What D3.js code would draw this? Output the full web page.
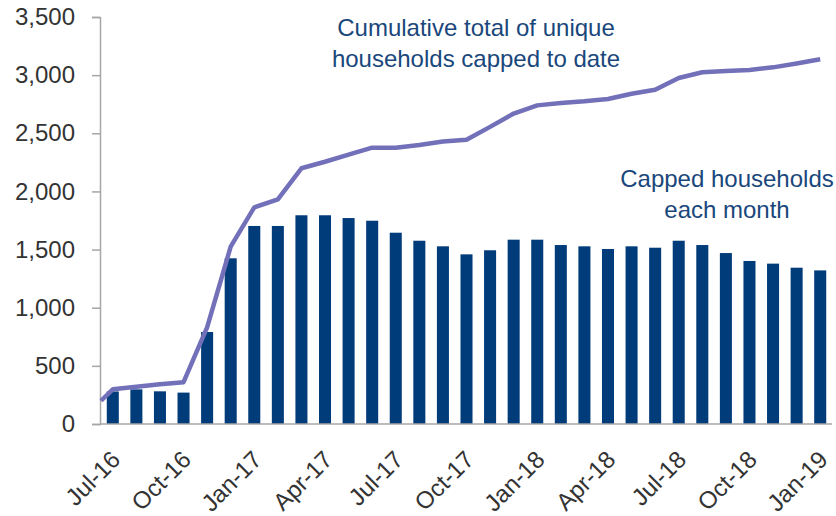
<!DOCTYPE html>
<html>
<head>
<meta charset="utf-8">
<script src="https://cdn.jsdelivr.net/npm/d3@7"></script>
<style>
  body { margin: 0; background: #fff; }
  svg text { font-family: "Liberation Sans", Arial, sans-serif; }
</style>
</head>
<body>
<svg id="chart" width="836" height="516"></svg>
<script>
// months Jul-16 .. Jan-19
var months = ["Jul-16","Aug-16","Sep-16","Oct-16","Nov-16","Dec-16",
  "Jan-17","Feb-17","Mar-17","Apr-17","May-17","Jun-17","Jul-17","Aug-17","Sep-17","Oct-17","Nov-17","Dec-17",
  "Jan-18","Feb-18","Mar-18","Apr-18","May-18","Jun-18","Jul-18","Aug-18","Sep-18","Oct-18","Nov-18","Dec-18",
  "Jan-19"];

// capped households each month (bars)
var capped = [280, 298, 281, 270, 791, 1425,
  1703, 1703, 1795, 1795, 1771, 1748, 1645, 1576, 1528, 1459, 1494, 1585,
  1585, 1539, 1528, 1505, 1528, 1516, 1576, 1539, 1470, 1402, 1379, 1344,
  1321];

// cumulative unique households capped (line)
var cumulative = [298, 320, 342, 360, 830, 1525,
  1863, 1932, 2199, 2255, 2316, 2376, 2375, 2400, 2430, 2445, 2555, 2670,
  2740, 2760, 2775, 2795, 2840, 2875, 2975, 3025, 3035, 3045, 3067, 3100,
  3136];
var cumulativeStart = 200; // where the line meets the y axis

var yTicks = [0, 500, 1000, 1500, 2000, 2500, 3000, 3500];
var xTickLabels = ["Jul-16","Oct-16","Jan-17","Apr-17","Jul-17","Oct-17","Jan-18","Apr-18","Jul-18","Oct-18","Jan-19"];

var svg = d3.select("#chart");
var mLeft = 100, mRight = 832, mTop = 17, mBottom = 424;

var x = d3.scaleBand().domain(months).range([mLeft + 1, mRight]).paddingInner(0.49).paddingOuter(0.245);
var y = d3.scaleLinear().domain([0, 3500]).range([mBottom, mTop]);

// bars
svg.append("g")
  .selectAll("rect")
  .data(months)
  .enter()
  .append("rect")
  .attr("x", d => x(d))
  .attr("width", x.bandwidth())
  .attr("y", (d, i) => y(capped[i]))
  .attr("height", (d, i) => y(0) - y(capped[i]))
  .style("fill", "#003b7a");

// y axis
var yAxis = svg.append("g")
  .attr("transform", "translate(" + mLeft + ",0)")
  .call(d3.axisLeft(y).tickValues(yTicks).tickSize(8).tickPadding(17).tickFormat(d3.format(",")));
yAxis.select(".domain").attr("stroke", "#a6a6a6").attr("stroke-width", 1.5);
yAxis.selectAll(".tick line").attr("stroke", "#a6a6a6").attr("stroke-width", 1.5);
yAxis.selectAll("text").style("font-size", "24px").style("fill", "#333");

// x axis
var xAxis = svg.append("g")
  .attr("transform", "translate(0," + mBottom + ")")
  .call(d3.axisBottom(x).tickValues(xTickLabels).tickSize(0).tickSizeOuter(0));
xAxis.select(".domain").attr("d", "M" + mLeft + ",0H" + mRight).attr("stroke", "#a6a6a6").attr("stroke-width", 1.5);
xAxis.selectAll("text")
  .style("font-size", "24px")
  .style("fill", "#333")
  .style("text-anchor", "end")
  .attr("dx", 0)
  .attr("dy", 0)
  .attr("transform", "translate(9,37) rotate(-45)")
  .attr("y", 0);

// cumulative line
var pts = [[x.range()[0], cumulativeStart]].concat(months.map((m, i) => [x(m) + x.bandwidth() / 2, cumulative[i]]));
var line = d3.line().x(d => d[0]).y(d => y(d[1]));
svg.append("path")
  .datum(pts)
  .attr("d", line)
  .style("fill", "none")
  .style("stroke", "#7370ba")
  .style("stroke-width", 4.5)
  .style("stroke-linejoin", "round");

// annotations
var notes = [
  { lines: ["Cumulative total of unique", "households capped to date"], cx: 476, y0: 36 },
  { lines: ["Capped households", "each month"], cx: 727, y0: 187 }
];
notes.forEach(function (n) {
  var t = svg.append("text")
    .attr("text-anchor", "middle")
    .style("font-size", "24px")
    .style("fill", "#1a477b");
  n.lines.forEach(function (s, i) {
    t.append("tspan").attr("x", n.cx).attr("y", n.y0 + i * 31).text(s);
  });
});
</script>
</body>
</html>
